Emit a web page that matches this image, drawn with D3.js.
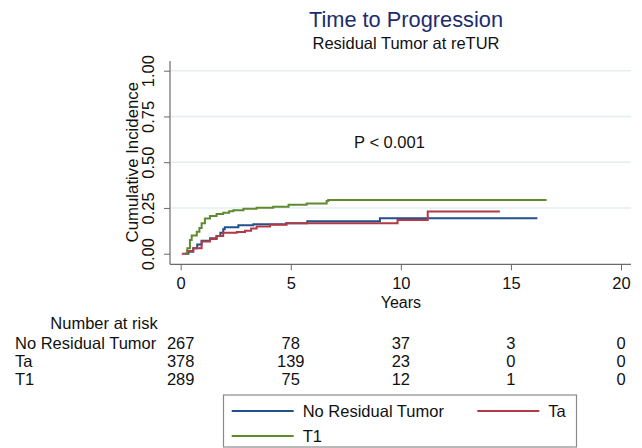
<!DOCTYPE html>
<html>
<head>
<meta charset="utf-8">
<script src="https://cdn.jsdelivr.net/npm/d3@7"></script>
<style>
  body { margin: 0; background: #fff; }
  svg { display: block; font-family: "Liberation Sans", Arial, sans-serif; }
</style>
</head>
<body>
<svg id="canvas"></svg>
<script>
const width = 642
const height = 448

// curves: [years, cumulative incidence]
const noResidual = [[0.2,0],[0.35,0.01],[0.57,0.03],[0.75,0.05],[0.95,0.071],[1.33,0.084],[1.63,0.097],[1.8,0.115],[1.93,0.133],[2.0,0.144],[2.62,0.155],[3.3,0.161],[4.8,0.166],[5.75,0.177],[9.05,0.194],[16.2,0.194]]
const ta = [[0.05,0],[0.3,0.015],[0.57,0.03],[0.95,0.066],[1.33,0.08],[1.63,0.097],[1.93,0.115],[2.55,0.118],[2.92,0.126],[3.2,0.138],[3.45,0.148],[4.06,0.158],[4.8,0.166],[9.85,0.184],[11.22,0.23],[14.5,0.23]]
const t1 = [[0.2,0],[0.3,0.03],[0.42,0.075],[0.5,0.1],[0.73,0.12],[0.85,0.14],[0.95,0.166],[1.1,0.193],[1.33,0.206],[1.63,0.217],[1.93,0.224],[2.2,0.232],[2.39,0.238],[2.85,0.245],[3.45,0.251],[4.2,0.257],[4.9,0.268],[5.72,0.275],[6.63,0.288],[6.7,0.293],[16.62,0.293]]

const groups = ["No Residual Tumor", "Ta", "T1"]
const colors = ["#22508a", "#b23a47", "#5f8a30"]

const xTicks = [0, 5, 10, 15, 20]
const yTicks = [0, 0.25, 0.5, 0.75, 1]

const atRiskNoResidual = [267, 78, 37, 3, 0]
const atRiskTa = [378, 139, 23, 0, 0]
const atRiskT1 = [289, 75, 12, 1, 0]

const series = [noResidual, ta, t1]
const atRisk = [atRiskNoResidual, atRiskTa, atRiskT1]

const canvas = d3.select("#canvas").attr("width", width).attr("height", height)

const xScale = d3.scaleLinear().domain([0, 20]).range([180.7, 621])
const yScale = d3.scaleLinear().domain([0, 1]).range([253.7, 70.7])

const axisColor = "#6a6a6a"
const fs = "16.5px"

// titles
canvas.append("text")
  .attr("x", 406).attr("y", 27.3)
  .attr("text-anchor", "middle")
  .attr("font-size", "21.8px")
  .attr("fill", "#1c2d6e")
  .text("Time to Progression")

canvas.append("text")
  .attr("x", 406).attr("y", 48.7)
  .attr("text-anchor", "middle")
  .attr("font-size", "16.5px")
  .attr("fill", "#111")
  .text("Residual Tumor at reTUR")

// grid
canvas.append("g")
  .selectAll("line")
  .data(yTicks.filter(d => d > 0))
  .enter()
  .append("line")
  .attr("x1", 171).attr("x2", 631)
  .attr("y1", d => yScale(d)).attr("y2", d => yScale(d))
  .attr("stroke", "#e4eeef")
  .attr("stroke-width", 1.5)

// y axis
const yAxis = d3.axisLeft(yScale)
  .tickValues(yTicks)
  .tickFormat(d3.format(".2f"))
  .tickSize(6)

const gy = canvas.append("g")
  .attr("transform", "translate(170,0)")
  .call(yAxis)
gy.select(".domain").remove()
gy.selectAll(".tick line").attr("stroke", axisColor)
gy.selectAll(".tick text")
  .attr("x", null).attr("dy", null)
  .attr("text-anchor", "middle")
  .attr("transform", "translate(-16,0) rotate(-90)")
  .attr("font-size", fs)
  .attr("font-family", null)
  .attr("fill", "#111")
gy.append("line")
  .attr("x1", 0).attr("x2", 0)
  .attr("y1", 61).attr("y2", 264.3)
  .attr("stroke", axisColor).attr("stroke-width", 1.2)

canvas.append("text")
  .attr("transform", "translate(137.5," + yScale(0.5) + ") rotate(-90)")
  .attr("text-anchor", "middle")
  .attr("font-size", "16.8px")
  .attr("fill", "#111")
  .text("Cumulative Incidence")

// x axis
const xAxis = d3.axisBottom(xScale)
  .tickValues(xTicks)
  .tickFormat(d3.format("d"))
  .tickSize(6)

const gx = canvas.append("g")
  .attr("transform", "translate(0,264.3)")
  .call(xAxis)
gx.select(".domain").remove()
gx.selectAll(".tick line").attr("stroke", axisColor)
gx.selectAll(".tick text")
  .attr("y", 24.5).attr("dy", null)
  .attr("font-size", fs)
  .attr("font-family", null)
  .attr("fill", "#111")
gx.append("line")
  .attr("x1", 170).attr("x2", 631)
  .attr("y1", 0).attr("y2", 0)
  .attr("stroke", axisColor).attr("stroke-width", 1.2)

canvas.append("text")
  .attr("x", xScale(10)).attr("y", 307.5)
  .attr("text-anchor", "middle")
  .attr("font-size", "16px")
  .attr("fill", "#111")
  .text("Years")

// curves
const line = d3.line()
  .x(d => xScale(d[0]))
  .y(d => yScale(d[1]))
  .curve(d3.curveStepAfter)

canvas.append("g")
  .selectAll("path")
  .data(series)
  .enter()
  .append("path")
  .attr("d", line)
  .attr("fill", "none")
  .attr("stroke", (d, i) => colors[i])
  .attr("stroke-width", 2)

canvas.append("text")
  .attr("x", 389.5).attr("y", 147.7)
  .attr("text-anchor", "middle")
  .attr("font-size", fs)
  .attr("fill", "#111")
  .text("P < 0.001")

// number at risk table
canvas.append("text")
  .attr("x", 104).attr("y", 328.5)
  .attr("text-anchor", "middle")
  .attr("font-size", fs)
  .attr("fill", "#111")
  .text("Number at risk")

const rowY = [348.5, 366.8, 385.1]

groups.forEach((g, i) => {
  canvas.append("text")
    .attr("x", 15).attr("y", rowY[i])
    .attr("font-size", fs)
    .attr("fill", "#111")
    .text(g)
  canvas.append("g")
    .selectAll("text")
    .data(atRisk[i])
    .enter()
    .append("text")
    .attr("x", (d, j) => xScale(xTicks[j]))
    .attr("y", rowY[i])
    .attr("text-anchor", "middle")
    .attr("font-size", fs)
    .attr("fill", "#111")
    .text(d => d)
})

// legend
const legend = canvas.append("g")
legend.append("rect")
  .attr("x", 223.5).attr("y", 395)
  .attr("width", 353).attr("height", 52)
  .attr("fill", "#fff")
  .attr("stroke", "#8a8a8a")
  .attr("stroke-width", 1.2)

const legendPos = [[231.7, 411], [477.3, 411], [231.7, 436]]
groups.forEach((g, i) => {
  const [lx, ly] = legendPos[i]
  legend.append("line")
    .attr("x1", lx).attr("x2", lx + 62)
    .attr("y1", ly).attr("y2", ly)
    .attr("stroke", colors[i])
    .attr("stroke-width", 2)
  legend.append("text")
    .attr("x", lx + 71).attr("y", ly + 5.8)
    .attr("font-size", fs)
    .attr("fill", "#111")
    .text(g)
})
</script>
</body>
</html>
